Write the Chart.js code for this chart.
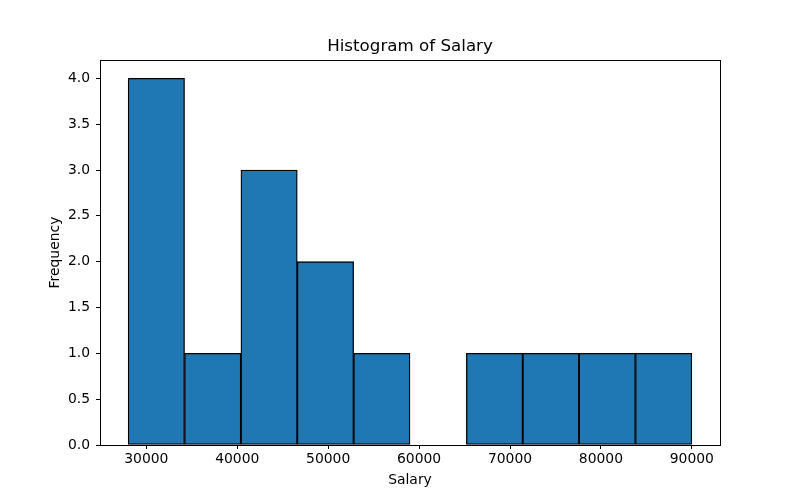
<!DOCTYPE html>
<html>
<head>
<meta charset="utf-8">
<script src="https://cdn.jsdelivr.net/npm/chart.js@4"></script>
<style>
  html, body { margin: 0; padding: 0; background: #fff; }
  #wrap { width: 800px; height: 500px; }
</style>
</head>
<body>
<div id="wrap"><canvas id="c" width="800" height="500"></canvas></div>
<script>
const chartTitle = "Histogram of Salary";
const xAxisTitle = "Salary";
const yAxisTitle = "Frequency";
const binEdges = [28000, 34200, 40400, 46600, 52800, 59000, 65200, 71400, 77600, 83800, 90000];
const counts = [4, 1, 3, 2, 1, 0, 1, 1, 1, 1];
const xTicks = [30000, 40000, 50000, 60000, 70000, 80000, 90000];
const yTicks = [0, 0.5, 1, 1.5, 2, 2.5, 3, 3.5, 4];

const points = counts.map((c, i) => ({ x: (binEdges[i] + binEdges[i + 1]) / 2, y: c }));
const FONT = "'DejaVu Sans'";

const framePlugin = {
  id: 'frame',
  afterDatasetsDraw(chart) {
    const { ctx, chartArea: a } = chart;
    ctx.save();
    ctx.strokeStyle = '#000';
    ctx.lineWidth = 1;
    ctx.strokeRect(Math.round(a.left) + 0.5, Math.round(a.top) + 0.5,
      Math.round(a.right - a.left), Math.round(a.bottom - a.top));
    ctx.restore();
  },
  afterDraw(chart) {
    const { ctx, chartArea: a } = chart;
    ctx.save();
    ctx.fillStyle = '#000';
    ctx.font = "16.7px " + FONT;
    ctx.textAlign = 'center';
    ctx.textBaseline = 'alphabetic';
    ctx.fillText(chartTitle, (a.left + a.right) / 2, a.top - 9);
    ctx.restore();
  }
};

new Chart(document.getElementById('c'), {
  type: 'bar',
  data: {
    datasets: [{
      data: points,
      backgroundColor: '#1f77b4',
      borderColor: '#000',
      borderWidth: 1.3,
      borderSkipped: false,
      barPercentage: 1,
      categoryPercentage: 1
    }]
  },
  options: {
    responsive: false,
    animation: false,
    layout: { padding: { left: 0, right: 80, top: 60, bottom: 0 } },
    plugins: { legend: { display: false }, tooltip: { enabled: false }, title: { display: false } },
    scales: {
      x: {
        type: 'linear',
        min: 24900, max: 93100,
        offset: false,
        afterBuildTicks: s => { s.ticks = xTicks.map(v => ({ value: v })); },
        afterFit: s => { s.height = 55; },
        grid: { offset: false, drawOnChartArea: false, drawTicks: true, tickLength: 4, color: '#000', tickColor: '#000' },
        border: { display: false },
        ticks: { color: '#000', font: { family: FONT, size: 13.9 }, padding: 2, maxRotation: 0, autoSkip: false,
                 callback: v => String(v) },
        title: { display: true, text: xAxisTitle, color: '#000', font: { family: FONT, size: 13.9 }, padding: { top: 0, bottom: 11 } }
      },
      y: {
        min: 0, max: 4.2,
        afterBuildTicks: s => { s.ticks = yTicks.map(v => ({ value: v })); },
        afterFit: s => { s.width = 100; },
        grid: { offset: false, drawOnChartArea: false, drawTicks: true, tickLength: 4, color: '#000', tickColor: '#000' },
        border: { display: false },
        ticks: { color: '#000', font: { family: FONT, size: 13.9 }, padding: 6, autoSkip: false,
                 callback: v => Number(v).toFixed(1) },
        title: { display: true, text: yAxisTitle, color: '#000', font: { family: FONT, size: 13.9 }, padding: { top: 47, bottom: 0 } }
      }
    }
  },
  plugins: [framePlugin]
});
</script>
</body>
</html>
